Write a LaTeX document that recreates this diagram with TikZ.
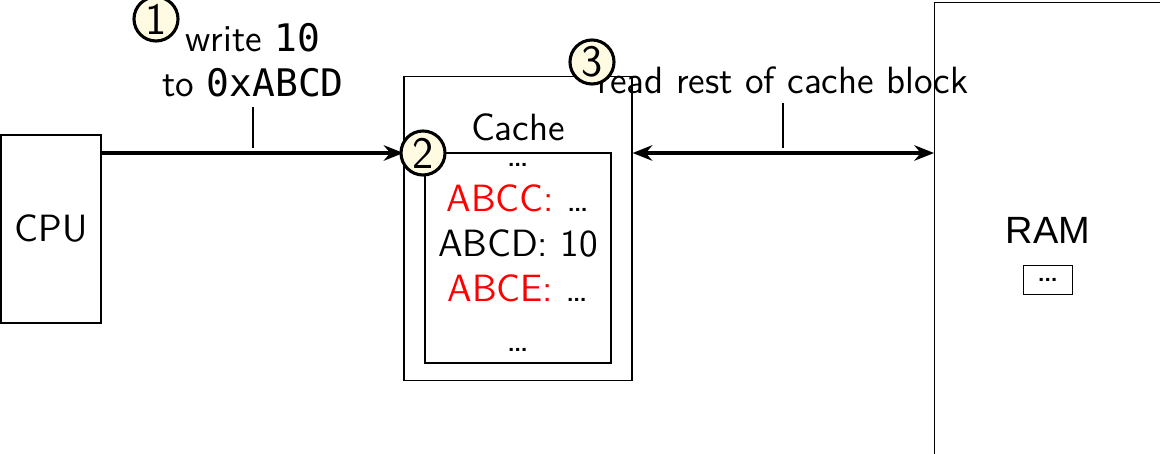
\documentclass[tikz,border=0pt]{standalone}
\usepackage{fontspec}
\setmonofont{DejaVu Sans Mono}
\newfontfamily\ramfont{Liberation Sans}
\usetikzlibrary{arrows.meta, positioning}
\definecolor{stepfill}{HTML}{FFFBE3}

\begin{document}
\begin{tikzpicture}[
  x=0.0125cm, y=-0.0125cm,
  every node/.style={font=\sffamily\fontsize{13.5}{16}\selectfont},
  box/.style={rectangle, draw, inner sep=0pt},
  numcirc/.style={circle, draw, line width=1.1pt, fill=stepfill, minimum size=0.55cm, inner sep=0pt,
    font=\sffamily\fontsize{16}{18}\selectfont},
  edge/.style={-{Stealth[length=7pt, width=5.5pt]}, line width=1.1pt},
]
\useasboundingbox (0,0) rectangle (1160,454);

% CPU
\node[box, minimum width=1.25cm, minimum height=2.35cm] (cpu) at (51,229) {CPU};

% Cache with its lines
\node[box, minimum width=2.85cm, minimum height=3.79cm] (cache) at (518,228.5) {};
\node[inner sep=0pt] (cachelbl) at (518,127) {Cache};
\node[box, minimum width=2.325cm, minimum height=2.625cm] (linebox) at (518,258) {};
\node[align=center, inner sep=0pt] (lines) at (518,257)
  {\ldots\\ \textcolor{red}{ABCC:} \ldots\\ ABCD: 10\\ \textcolor{red}{ABCE:} \ldots\\[0.3ex] \ldots};

% RAM (runs off the page)
\node[box, anchor=north west, minimum width=3.75cm, minimum height=6.25cm] (ram) at (934,2) {};
\node[font=\ramfont\fontsize{13.5}{16}\selectfont] (ramlbl) at (1048,230) {RAM};
\node[box, minimum width=0.61cm, minimum height=0.36cm] (ramcell) at (1048,280) {\ldots};

% Bus
\coordinate (busy) at (0,153);
\coordinate (t1) at (253,148);
\coordinate (t2) at (783,148);
\draw[edge] (cpu.east |- busy) -- (cache.west |- busy);
\draw[{Stealth[length=7pt, width=5.5pt]}-{Stealth[length=7pt, width=5.5pt]}, line width=1.1pt] (cache.east |- busy) -- (ram.west |- busy);

% Labels
\node[align=center] (wlbl) at (253,60) {write \texttt{10}\\ to \texttt{0xABCD}};
\draw (wlbl.south) -- (t1);
\node (rlbl) at (783,80) {read rest of cache block};
\draw (rlbl.south) -- (t2);

% Steps
\node[numcirc] (n1) at (156,19) {1};
\node[numcirc] (n2) at (423,153) {2};
\node[numcirc] (n3) at (592,62) {3};

\end{tikzpicture}
\end{document}
